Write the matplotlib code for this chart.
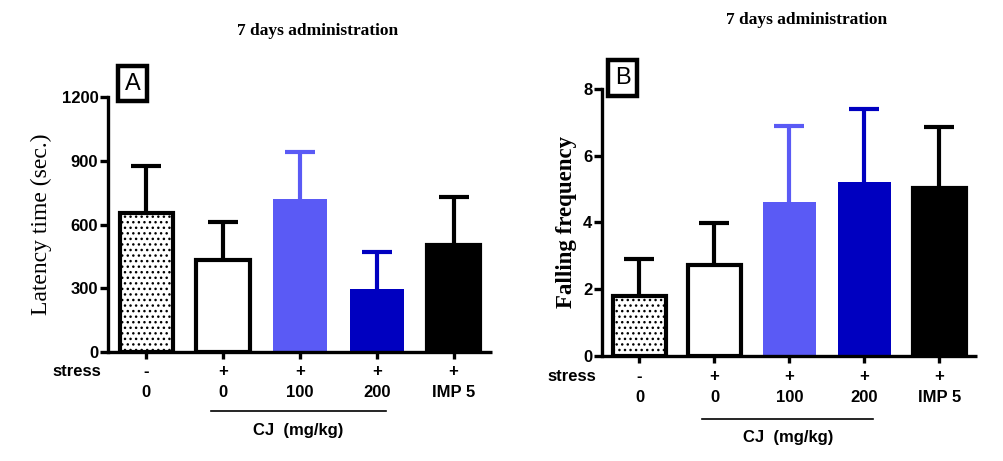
import matplotlib.pyplot as plt
import matplotlib.transforms as mtransforms

plt.rcParams['hatch.linewidth'] = 1.0

# data
stress = ['-', '+', '+', '+', '+']
doses = ['0', '0', '100', '200', 'IMP 5']
latency = [655, 433, 720, 296, 503]
latency_err = [220, 180, 221, 174, 227]
falling = [1.79, 2.72, 4.6, 5.22, 5.02]
falling_err = [1.11, 1.27, 2.29, 2.18, 1.83]

faces = ['white', 'white', '#5a5af5', '#0000c0', 'black']
hatches = ['...', None, None, None, None]
edges = ['black', 'black', '#5a5af5', '#0000c0', 'black']
errcols = ['black', 'black', '#5a5af5', '#0000c0', 'black']

sans = 'Liberation Sans'
serif = 'Liberation Serif'

fig = plt.figure(figsize=(10.04, 4.61), dpi=100)
axA = fig.add_axes([0.1076, 0.2364, 0.3824, 0.5532])
axB = fig.add_axes([0.5996, 0.2284, 0.3735, 0.5785])


def draw(ax, vals, errs, ymax, step, ylabel, ylab_kw, offs, letter, box_xy):
    x = range(len(vals))
    for i in x:
        lw = 0 if faces[i] in ('#5a5af5', '#0000c0') else 3
        ax.bar(i, vals[i], width=0.7, color=faces[i], edgecolor=edges[i],
               hatch=hatches[i], linewidth=lw, zorder=2)
        eb = ax.errorbar(i, vals[i], yerr=[[0], [errs[i]]], fmt='none',
                         ecolor=errcols[i], elinewidth=3, capsize=10.5,
                         capthick=3, zorder=1)
        eb[1][0].set_visible(False)  # no cap at the bar top
    ax.set_xlim(-0.5, 4.5)
    ax.set_ylim(0, ymax)
    ax.set_yticks([step * k for k in range(int(ymax / step) + 1)])
    ax.set_xticks(list(x))
    ax.set_xticklabels([])
    for s in ['top', 'right']:
        ax.spines[s].set_visible(False)
    for s in ['left', 'bottom']:
        ax.spines[s].set_linewidth(2.4)
    ax.spines['bottom'].set_capstyle('butt')
    ax.tick_params(axis='y', length=6, width=2.4, labelsize=12, pad=1)
    ax.tick_params(axis='x', length=5, width=2.4)
    for t in ax.get_yticklabels():
        t.set_fontfamily(sans)
        t.set_fontweight('bold')
    ax.set_ylabel(ylabel, **ylab_kw)

    lab = dict(xycoords=('data', 'axes fraction'), textcoords='offset points',
               ha='center', va='center', fontfamily=sans,
               fontweight='bold', fontsize=12, annotation_clip=False)
    for i in x:
        ax.annotate(stress[i], xy=(i, 0), xytext=(0, -offs[0]), **lab)
        ax.annotate(doses[i], xy=(i, 0), xytext=(0, -offs[1]), **lab)
    ax.annotate('stress', xy=(-0.9, 0), xytext=(0, -offs[0]), **lab)
    ax.annotate('CJ  (mg/kg)', xy=(1.98, 0), xytext=(0, -offs[3]), **lab)
    tr = mtransforms.blended_transform_factory(ax.transData, ax.transAxes) + \
        mtransforms.ScaledTranslation(0, -offs[2] / 72, fig.dpi_scale_trans)
    ax.plot([0.84, 3.12], [0, 0], color='black', lw=1.2, transform=tr,
            clip_on=False)

    fig.text(box_xy[0], box_xy[1], letter, fontfamily=sans, fontsize=17,
             ha='center', va='center',
             bbox=dict(boxstyle='square,pad=0.28', facecolor='white',
                       edgecolor='black', linewidth=3.2))


draw(axA, latency, latency_err, 1200, 300, 'Latency time (sec.)',
     dict(fontfamily=serif, fontsize=17, labelpad=7),
     [13.7, 28.8, 42.5, 56.2], 'A', (132.5 / 1004, 1 - 83.5 / 461))
draw(axB, falling, falling_err, 8, 2, 'Falling frequency',
     dict(fontfamily=serif, fontsize=16.5, fontweight='bold', labelpad=4),
     [15.1, 30.2, 45.4, 59.0], 'B', (622.5 / 1004, 1 - 78 / 461))

fig.text(318 / 1004, 1 - 31 / 461, '7 days administration', fontfamily=serif,
         fontweight='bold', fontsize=12.5, ha='center', va='center')
fig.text(807 / 1004, 1 - 20 / 461, '7 days administration', fontfamily=serif,
         fontweight='bold', fontsize=12.5, ha='center', va='center')

fig.savefig('out.png', dpi=100)
